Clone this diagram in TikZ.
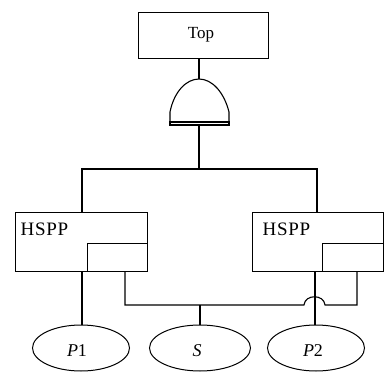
\documentclass[tikz,border=0pt]{standalone}
\usepackage{fontspec}
\setmainfont{Liberation Serif}
\usetikzlibrary{shapes.geometric}
\begin{document}
\begin{tikzpicture}[x=1pt,y=-1pt,line width=1.1pt,
  box/.style={draw,line width=1pt,inner sep=0pt,minimum width=#1,minimum height=59},
  port/.style={draw,line width=1pt,minimum height=28,inner sep=0pt,anchor=south east},
  lbl/.style={anchor=base west,inner sep=0pt,font=\fontsize{19}{19}\selectfont\addfontfeatures{LetterSpace=4}},
  event/.style={draw,ellipse,line width=1pt,minimum width=97,minimum height=46,inner sep=0pt},
  evtext/.style={inner sep=0pt,font=\fontsize{18}{18}\selectfont},
  wire/.style={line width=1.1pt}]
\useasboundingbox (0,0) rectangle (389,372);

% top event
\node[draw,line width=1pt,minimum width=130,minimum height=46,inner sep=0pt,
      font=\fontsize{17}{17}\selectfont] (top) at (203,35) {};
\node[inner sep=0pt,font=\fontsize{17}{17}\selectfont,anchor=base] (toptext) at (201,38) {Top};

% OR gate below the top event
\coordinate (gin) at (199,79);
\coordinate (gout) at (199,125);
\draw[line width=1.1pt] (170,122) -- (170,112)
   .. controls (174,92) and (186,79) .. (gin)
   .. controls (212,79) and (224,92) .. (229,112) -- (229,122);
\draw[line width=1.1pt] (170,122) -- (229,122) -- (229,125) -- (170,125) -- cycle;

% the two HSPP blocks with their spare port
\node[box=132] (h1) at (81,241.5) {};
\node[port,minimum width=60] (h1p) at (h1.south east) {};
\node[lbl] (h1l) at (20,235) {HSPP};

\node[box=131] (h2) at (317.5,241.5) {};
\node[port,minimum width=61] (h2p) at (h2.south east) {};
\node[lbl] (h2l) at (262,235) {HSPP};

% basic events
\node[event] (p1) at (81,348) {};
\node[evtext] (p1t) at (77,351) {\textit{P}1};
\node[event,minimum width=101] (s) at (200,348) {};
\node[evtext] (st) at (197,351) {\textit{S}};
\node[event] (p2) at (316,348) {};
\node[evtext] (p2t) at (313,351) {\textit{P}2};

% connectors
\coordinate (bar) at (199,169);
\draw[wire] (top.south -| gin) -- (gin);
\draw[wire] (gout) -- (bar);
\draw[wire] (h1.north -| 82,0) |- (bar) -| (h2.north -| 317,0);
\draw[wire] (h1.south -| 82,0) -- (p1.north -| 82,0);
\draw[wire] (h2.south -| 315,0) -- (p2.north -| 315,0);
\coordinate (sj) at (200,305);
\draw[wire] (sj) -- (s.north);
\draw[wire] (h1.south -| 125,0) |- (304,305)
   .. controls (305,294) and (324,294) .. (325,305) -| (h2.south -| 357,0);
\end{tikzpicture}
\end{document}
